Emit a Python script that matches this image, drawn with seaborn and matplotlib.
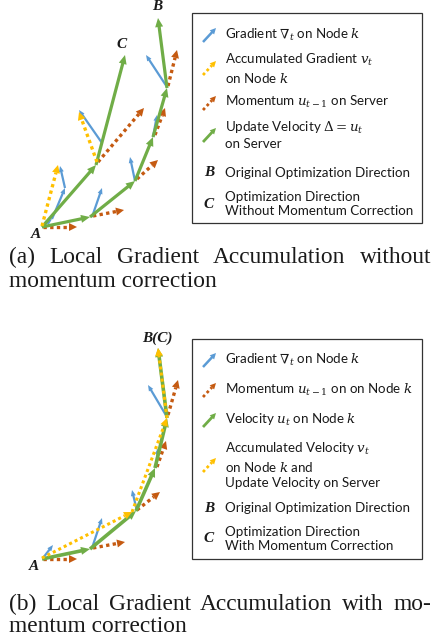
import numpy as np
import matplotlib
matplotlib.use("Agg")
import matplotlib.pyplot as plt
import seaborn as sns
from matplotlib.patches import Rectangle

sns.set_theme(style="white")
plt.rcParams["font.family"] = ["Lato", "DejaVu Sans"]
plt.rcParams["mathtext.fontset"] = "dejavuserif"

BLUE = "#5B9BD5"
GREEN = "#70AD47"
ORANGE = "#C55A11"
YELLOW = "#FFC000"
TXT = "#1a1a1a"

# ---------------- data (diagram coordinates, point A = origin, y up) ----------------
# Panel (a): without momentum correction
green_a_lower = [(0, 0), (48, 10), (93, 46), (111, 90), (125, 139), (116, 209)]
green_a_upper = [(0, 0), (54, 62), (83, 172)]
blue_a = [((1, 1), (10, 8)), ((10, 8), (23, 39)), ((23, 39), (18, 61)),
          ((50, 10), (60, 39)), ((93, 46), (88, 70)), ((111, 90), (115, 112)),
          ((125, 140), (104, 172)), ((60, 84), (37, 117))]
orange_a = [((1, 0), (35, 0)), ((51, 11), (82, 17)), ((95, 48), (116, 67)),
            ((113, 92), (123, 119)), ((126, 141), (135, 177)), ((56, 65), (102, 119))]
yellow_a = [((0, 1), (16, 62)), ((55, 65), (37, 115))]
labels_a = [("A", (-6, -8)), ("B", (115, 220)), ("C", (80, 182))]

# Panel (b): with momentum correction
green_b = [(0, 0), (48, 10), (94, 48), (113, 91), (125, 141), (116, 211)]
yellow_b = [(0, 1), (90, 47), (125, 141), (116, 211)]
blue_b = [((1, 1), (11, 14)), ((50, 11), (60, 41)), ((95, 48), (90, 69)),
          ((114, 92), (116, 111)), ((125, 142), (106, 174))]
orange_b = [((1, 0), (35, 0)), ((51, 11), (83, 17)), ((95, 49), (118, 67)),
            ((115, 92), (124, 118)), ((126, 144), (136, 179))]
labels_b = [("A", (-8, -7)), ("B(C)", (115, 221))]

legend_a = ["Gradient $\\nabla_t$ on Node $k$",
            "Accumulated Gradient $v_t$\non Node $k$",
            "Momentum $u_{t-1}$ on Server",
            "Update Velocity $\\Delta = u_t$\non Server",
            "Original Optimization Direction",
            "Optimization Direction\nWithout Momentum Correction"]
legend_b = ["Gradient $\\nabla_t$ on Node $k$",
            "Momentum $u_{t-1}$ on on Node $k$",
            "Velocity $u_t$ on Node $k$",
            "Accumulated Velocity $v_t$\non Node $k$ and\nUpdate Velocity on Server",
            "Original Optimization Direction",
            "Optimization Direction\nWith Momentum Correction"]

caption_a = ["(a) Local Gradient Accumulation without", "momentum correction"]
caption_b = ["(b) Local Gradient Accumulation with mo-", "mentum correction"]

# ---------------- figure ----------------
W, H = 434, 639
fig = plt.figure(figsize=(W / 100, H / 100), dpi=100)
ov = fig.add_axes([0, 0, 1, 1])
ov.set_xlim(0, W)
ov.set_ylim(H, 0)
ov.axis("off")


def arrow(ax, p0, p1, color, lw, dotted=False, hl=8.0, hw=7.0, z=2):
    p0 = np.asarray(p0, float)
    p1 = np.asarray(p1, float)
    d = p1 - p0
    u = d / np.hypot(*d)
    n = np.array([-u[1], u[0]])
    base = p1 - u * hl
    if dotted:
        ax.plot([p0[0], base[0]], [p0[1], base[1]], color=color, lw=lw,
                linestyle=(0, (1, 1)), dash_capstyle="butt", zorder=z)
    else:
        ax.plot([p0[0], base[0] + u[0]], [p0[1], base[1] + u[1]], color=color,
                lw=lw, solid_capstyle="butt", zorder=z)
    tri = np.array([p1, base + n * hw / 2, base - n * hw / 2])
    ax.fill(tri[:, 0], tri[:, 1], color=color, lw=0, zorder=z)


def chain(ax, pts, **kw):
    for a, b in zip(pts[:-1], pts[1:]):
        arrow(ax, a, b, **kw)


def panel_axes(top_px, ax_px_h, ax_px_w, A):
    ax = fig.add_axes([0, 1 - (top_px + ax_px_h) / H, ax_px_w / W, ax_px_h / H])
    ax.set_xlim(-A[0], ax_px_w - A[0])
    ax.set_ylim(-(top_px + ax_px_h - A[1]), A[1] - top_px)
    ax.axis("off")
    ax.patch.set_alpha(0)
    return ax


lab_kw = dict(fontfamily="Liberation Serif", fontweight="bold", fontstyle="italic",
              fontsize=11, color=TXT, ha="center", va="center")

# Panel (a)
axa = panel_axes(0, 245, 190, (42, 227))
for s, e in orange_a:
    arrow(axa, s, e, ORANGE, 2.4, dotted=True, hl=8, hw=8, z=2)
for s, e in blue_a:
    arrow(axa, s, e, BLUE, 1.6, hl=6, hw=5, z=3)
chain(axa, green_a_lower, color=GREEN, lw=2.3, hl=9, hw=8, z=4)
chain(axa, green_a_upper, color=GREEN, lw=2.3, hl=9, hw=8, z=4)
for s, e in yellow_a:
    arrow(axa, s, e, YELLOW, 2.4, dotted=True, hl=8, hw=8, z=5)
for t, p in labels_a:
    axa.text(p[0], p[1], t, **lab_kw)

# Panel (b)
axb = panel_axes(325, 250, 190, (42, 559))
for s, e in orange_b:
    arrow(axb, s, e, ORANGE, 2.4, dotted=True, hl=8, hw=8, z=2)
for s, e in blue_b:
    arrow(axb, s, e, BLUE, 1.6, hl=6, hw=5, z=3)
chain(axb, green_b, color=GREEN, lw=2.6, hl=9, hw=8, z=4)
chain(axb, yellow_b, color=YELLOW, lw=2.2, dotted=True, hl=8, hw=8, z=5)
for t, p in labels_b:
    axb.text(p[0], p[1], t, **lab_kw)

# ---------------- legends ----------------
leg_kw = dict(fontsize=9.6, color=TXT, va="center", ha="left", linespacing=1.25)


def legend(box, entries, icons, text_y, letters):
    x0, y0, x1, y1 = box
    ov.add_patch(Rectangle((x0, y0), x1 - x0, y1 - y0, fill=False,
                           edgecolor="#333333", lw=0.9))
    for (color, dotted, lw), ic_y in icons:
        arrow(ov, (203, ic_y + 7), (216, ic_y - 7), color, lw, dotted=dotted,
              hl=6, hw=6)
    for txt, ty in zip(entries, text_y):
        ov.text(225, ty, txt, **leg_kw)
    for t, ly in letters:
        ov.text(209, ly, t, fontfamily="Liberation Serif", fontweight="bold",
                fontstyle="italic", fontsize=11, color=TXT, ha="center",
                va="center")


legend((192, 13, 422, 223), legend_a,
       [((BLUE, False, 1.8), 35), ((YELLOW, True, 2.0), 68),
        ((ORANGE, True, 2.0), 103), ((GREEN, False, 2.0), 135)],
       [35, 68.5, 102, 135, 173, 204],
       [("B", 173), ("C", 204)])
legend((192, 339, 422, 559), legend_b,
       [((BLUE, False, 1.8), 360), ((ORANGE, True, 2.0), 390),
        ((GREEN, False, 2.0), 420), ((YELLOW, True, 2.0), 465)],
       [360, 390, 420, 465, 508, 539],
       [("B", 508), ("C", 539)])

# ---------------- captions (justified first line) ----------------
cap_kw = dict(fontfamily="Liberation Serif", fontsize=16.8, color=TXT, va="baseline")
fig.canvas.draw()
renderer = fig.canvas.get_renderer()


def justified(line, y, left=9, right=431):
    words = line.split(" ")
    arts = [ov.text(0, y, w, ha="left", **cap_kw) for w in words]
    inv = ov.transData.inverted()
    widths = []
    for a in arts:
        bb = a.get_window_extent(renderer)
        (xa, _), (xb, _) = inv.transform([(bb.x0, bb.y0), (bb.x1, bb.y0)])
        widths.append(xb - xa)
    gap = (right - left - sum(widths)) / (len(words) - 1)
    x = left
    for a, w in zip(arts, widths):
        a.set_x(x)
        x += w + gap


justified(caption_a[0], 263)
ov.text(9, 287, caption_a[1], ha="left", **cap_kw)
justified(caption_b[0], 610)
ov.text(9, 632, caption_b[1], ha="left", **cap_kw)

fig.savefig("out.png", dpi=100, facecolor="white")
